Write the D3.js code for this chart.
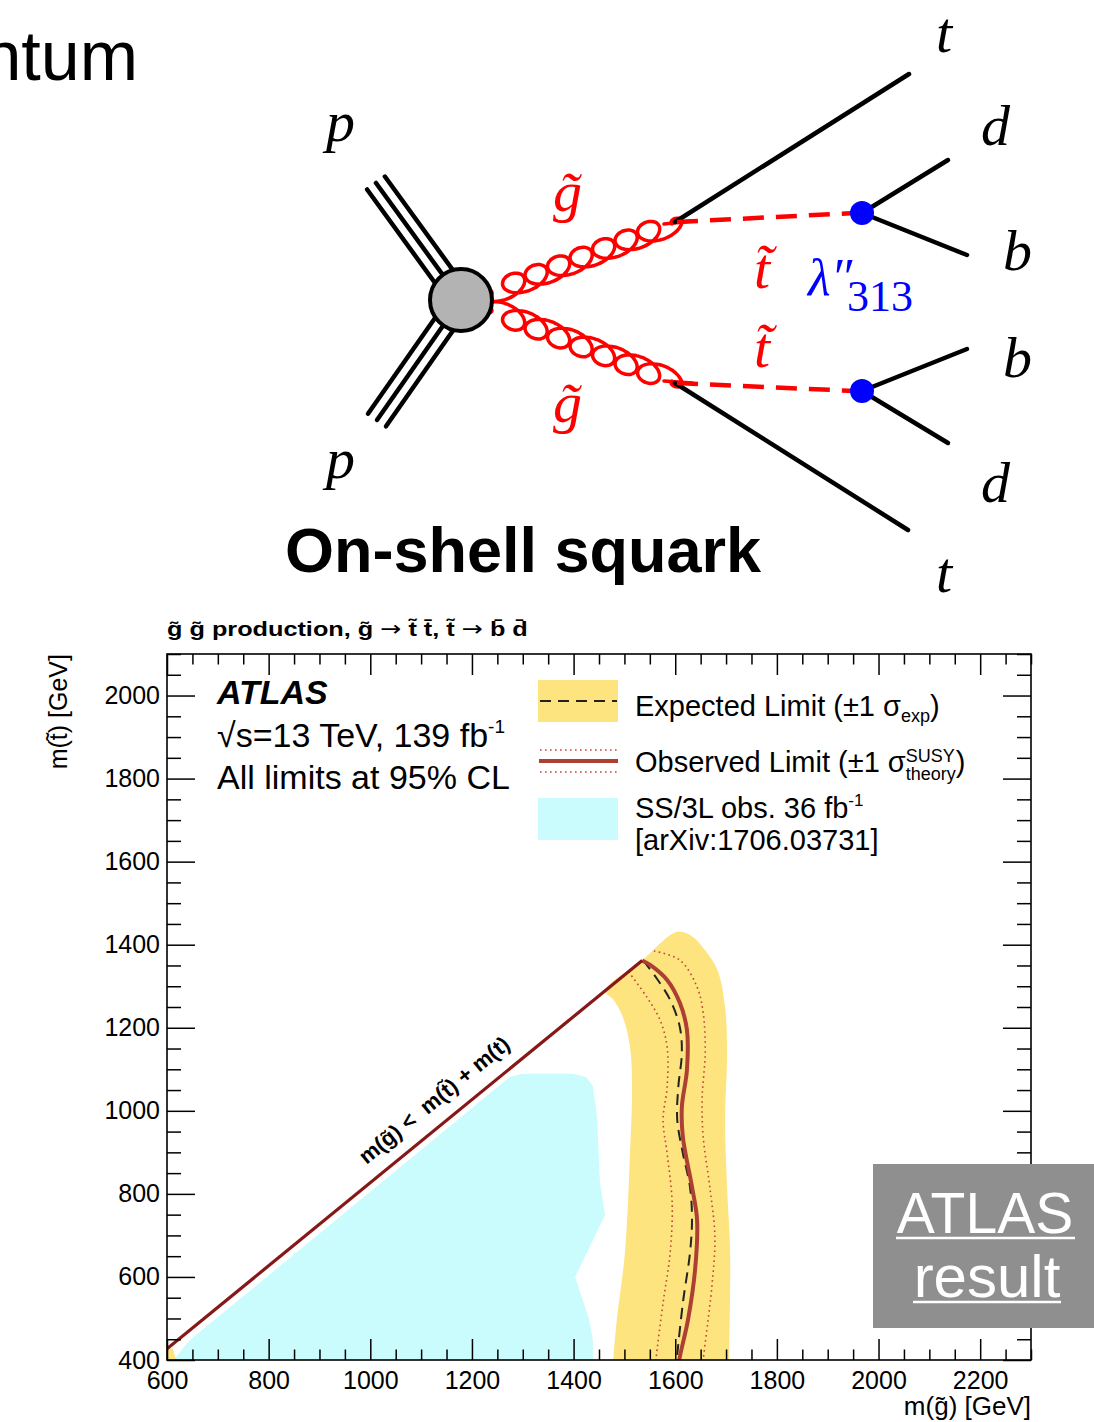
<!DOCTYPE html>
<html><head><meta charset="utf-8">
<script src="https://cdn.jsdelivr.net/npm/d3@7/dist/d3.min.js"></script>
<style>
html,body{margin:0;padding:0;background:#fff;}
svg{display:block;}
text{white-space:pre;}
</style></head><body>
<svg id="c" width="1094" height="1422" xmlns="http://www.w3.org/2000/svg"></svg>
<script>
// ================= chart data =================
const xMajorTicks = [600, 800, 1000, 1200, 1400, 1600, 1800, 2000, 2200];
const yMajorTicks = [400, 600, 800, 1000, 1200, 1400, 1600, 1800, 2000];
const xTickLabels = ["600", "800", "1000", "1200", "1400", "1600", "1800", "2000", "2200"];
const yTickLabels = ["400", "600", "800", "1000", "1200", "1400", "1600", "1800", "2000"];
const topQuarkMass = 173;
// kinematic boundary m(g~) = m(t~) + m(t)  (gluino mass endpoints)
const kinematicGluino = [600, 1535];
// SS/3L 36 fb-1 observed excluded region [m(g~), m(t~)]
const ss3lRegion = [[614, 398], [616, 405], [645, 448], [1275, 1082], [1300, 1089], [1399, 1089], [1425, 1081], [1438, 1060], [1446, 985], [1452, 826], [1462, 749], [1403, 600], [1430, 500], [1438, 448], [1438, 398]];
// expected limit +-1 sigma band (closed contour)
const expBand = [[1476, 360], [1478, 400], [1485, 496], [1501, 658], [1511, 898], [1515, 1057], [1511, 1154], [1497, 1226], [1478, 1268], [1462, 1289], [1533, 1360], [1604, 1431], [1632, 1421], [1657, 1389], [1683, 1339], [1698, 1250], [1702, 1139], [1698, 978], [1702, 817], [1708, 658], [1706, 400], [1706, 360]];
const expBandCorner = [[600, 400], [600, 426], [611, 428], [618, 400]];
const expectedLimit = [[1537, 1362], [1564, 1318], [1590, 1267], [1609, 1202], [1613, 1139], [1606, 1057], [1604, 978], [1615, 898], [1629, 817], [1633, 737], [1629, 658], [1615, 537], [1603, 400], [1601, 370]];
const observedLimit = [[1535, 1362], [1552, 1350], [1584, 1315], [1609, 1260], [1623, 1195], [1623, 1098], [1613, 1009], [1615, 937], [1633, 817], [1643, 737], [1639, 617], [1625, 496], [1608, 400], [1606, 370]];
const observedTheoryDown = [[1508, 1335], [1544, 1274], [1570, 1219], [1584, 1154], [1584, 1057], [1576, 978], [1584, 898], [1594, 778], [1590, 658], [1576, 537], [1562, 400], [1560, 370]];
const observedTheoryUp = [[1558, 1385], [1609, 1363], [1643, 1298], [1655, 1236], [1659, 1139], [1653, 1033], [1655, 937], [1668, 817], [1678, 696], [1672, 576], [1655, 400], [1653, 370]];

// ================= styles =================
const SANS = '"Liberation Sans", Arial, Helvetica, sans-serif';
const SERIF = '"Liberation Serif", "Times New Roman", serif';
const YELLOW = "#fde47f", CYAN = "#cbfcfd", OBS = "#ad3f33", KIN = "#861818", DOT = "#c2453c";

const svg = d3.select("#c");
svg.append("rect").attr("width", 1094).attr("height", 1422).attr("fill", "#fff");

// ================= header text =================
svg.append("text").attr("x", 138).attr("y", 80).attr("text-anchor", "end")
  .attr("font-family", SANS).attr("font-size", 70).attr("fill", "#000").text("ntum");

// ================= Feynman diagram =================
const fg = svg.append("g").attr("stroke-linecap", "round").attr("fill", "none");
const blob = [461, 300];
function protonLines(end) {
  const dx = blob[0] - end[0], dy = blob[1] - end[1], L = Math.hypot(dx, dy);
  const nx = -dy / L, ny = dx / L;
  [-11, 0, 11].forEach(o => {
    fg.append("line").attr("x1", end[0] + nx * o).attr("y1", end[1] + ny * o)
      .attr("x2", blob[0] + nx * o).attr("y2", blob[1] + ny * o)
      .attr("stroke", "#000").attr("stroke-width", 4.5);
  });
}
protonLines([376, 183]);
protonLines([377, 420]);

function gluon(p0, p1, n, amp, R, side) {
  const dx = p1[0] - p0[0], dy = p1[1] - p0[1], L = Math.hypot(dx, dy);
  const ux = dx / L, uy = dy / L, nx = -uy * side, ny = ux * side;
  const c = L / (2 * Math.PI * n);
  const pts = [];
  const N = n * 48;
  for (let i = 0; i <= N; i++) {
    const th = i / N * 2 * Math.PI * n;
    const env = Math.min(1, th / 1.5, (2 * Math.PI * n - th) / 1.5);
    const u = c * th - R * Math.sin(th) * env;
    const v = (amp * (1 - Math.cos(th)) - amp) * env;
    pts.push([p0[0] + ux * u + nx * v, p0[1] + uy * u + ny * v]);
  }
  fg.append("path").attr("d", d3.line().curve(d3.curveBasis)(pts))
    .attr("stroke", "#ff0000").attr("stroke-width", 3.5);
}
gluon([492, 293], [672, 224], 8, 11, 17, 1);
gluon([492, 310], [672, 381], 8, 11, 17, -1);
fg.append("line").attr("x1", 664).attr("y1", 224).attr("x2", 692).attr("y2", 221).attr("stroke", "#f00").attr("stroke-width", 3.5);
fg.append("line").attr("x1", 664).attr("y1", 381).attr("x2", 692).attr("y2", 383).attr("stroke", "#f00").attr("stroke-width", 3.5);

// top quark lines
fg.append("line").attr("x1", 675).attr("y1", 222).attr("x2", 909).attr("y2", 74).attr("stroke", "#000").attr("stroke-width", 4.5);
fg.append("line").attr("x1", 675).attr("y1", 383).attr("x2", 908).attr("y2", 530).attr("stroke", "#000").attr("stroke-width", 4.5);
// stop dashed lines
fg.append("line").attr("x1", 677).attr("y1", 222).attr("x2", 855).attr("y2", 213).attr("stroke", "#f00").attr("stroke-width", 4.5).attr("stroke-dasharray", "21,12").attr("stroke-linecap", "butt");
fg.append("line").attr("x1", 677).attr("y1", 383).attr("x2", 855).attr("y2", 391).attr("stroke", "#f00").attr("stroke-width", 4.5).attr("stroke-dasharray", "21,12").attr("stroke-linecap", "butt");
// decay products
[[862, 213, 948, 160], [862, 213, 967, 255], [862, 391, 967, 349], [862, 391, 948, 443]].forEach(l => {
  fg.append("line").attr("x1", l[0]).attr("y1", l[1]).attr("x2", l[2]).attr("y2", l[3]).attr("stroke", "#000").attr("stroke-width", 4.5);
});
fg.append("circle").attr("cx", 862).attr("cy", 213).attr("r", 12).attr("fill", "#0000ff").attr("stroke", "none");
fg.append("circle").attr("cx", 862).attr("cy", 391).attr("r", 12).attr("fill", "#0000ff").attr("stroke", "none");
fg.append("circle").attr("cx", blob[0]).attr("cy", blob[1]).attr("r", 31).attr("fill", "#b3b3b3").attr("stroke", "#000").attr("stroke-width", 4);

// labels
const lab = svg.append("g").attr("font-family", SERIF).attr("font-style", "italic");
function L(x, y, t, col, size) {
  return lab.append("text").attr("x", x).attr("y", y).attr("fill", col || "#000").attr("font-size", size || 58).text(t);
}
L(326, 141, "p"); L(326, 478, "p");
L(553, 211, "g\u0303", "#f00"); L(553, 422, "g\u0303", "#f00");
L(754, 288, "t\u0303", "#f00"); L(754, 367, "t\u0303", "#f00");
L(936, 52, "t"); L(936, 592, "t");
L(981, 145, "d"); L(981, 502, "d");
L(1003, 270, "b"); L(1003, 377, "b");
L(808, 295, "\u03bb\u2033", "#0000ff", 52);
lab.append("text").attr("x", 847).attr("y", 311).attr("fill", "#0000ff").attr("font-size", 44).attr("font-style", "normal").text("313");

svg.append("text").attr("x", 523).attr("y", 572).attr("text-anchor", "middle")
  .attr("font-family", SANS).attr("font-weight", "bold").attr("font-size", 63).text("On-shell squark");

// ================= exclusion plot =================
const M = { l: 167, r: 1031, t: 654, b: 1360 };
const x = d3.scaleLinear().domain([600, 2300]).range([M.l, M.r]);
const y = d3.scaleLinear().domain([400, 2100]).range([M.b, M.t]);

svg.append("clipPath").attr("id", "pc").append("rect")
  .attr("x", M.l).attr("y", M.t).attr("width", M.r - M.l).attr("height", M.b - M.t);
const pg = svg.append("g").attr("clip-path", "url(#pc)");
const lin = d3.line().x(d => x(d[0])).y(d => y(d[1]));

pg.append("path").attr("d", lin.curve(d3.curveLinearClosed)(ss3lRegion)).attr("fill", CYAN);
pg.append("path").attr("d", d3.line().x(d => x(d[0])).y(d => y(d[1])).curve(d3.curveCatmullRomClosed.alpha(0.5))(expBand)).attr("fill", YELLOW);
pg.append("path").attr("d", lin.curve(d3.curveLinearClosed)(expBandCorner)).attr("fill", YELLOW);

const smooth = d3.line().x(d => x(d[0])).y(d => y(d[1])).curve(d3.curveCatmullRom.alpha(0.5));
pg.append("path").attr("d", smooth(observedTheoryDown)).attr("fill", "none").attr("stroke", DOT).attr("stroke-width", 1.6).attr("stroke-dasharray", "1.6,3.4");
pg.append("path").attr("d", smooth(observedTheoryUp)).attr("fill", "none").attr("stroke", DOT).attr("stroke-width", 1.6).attr("stroke-dasharray", "1.6,3.4");
pg.append("path").attr("d", smooth(expectedLimit)).attr("fill", "none").attr("stroke", "#222").attr("stroke-width", 2).attr("stroke-dasharray", "11,7");
pg.append("path").attr("d", smooth(observedLimit)).attr("fill", "none").attr("stroke", OBS).attr("stroke-width", 4);

const kin = kinematicGluino.map(g => [g, g - topQuarkMass]);
pg.append("path").attr("d", d3.line().x(d => x(d[0])).y(d => y(d[1]))(kin)).attr("fill", "none").attr("stroke", KIN).attr("stroke-width", 3.2);

// kinematic label
{
  const ang = Math.atan2(y(kin[1][1]) - y(kin[0][1]), x(kin[1][0]) - x(kin[0][0]));
  const gm = 1155, px = x(gm), py = y(gm - topQuarkMass);
  const off = 16;
  const tx = px + Math.sin(ang) * off, ty = py - Math.cos(ang) * off;
  svg.append("text").attr("transform", `translate(${tx},${ty}) rotate(${ang * 180 / Math.PI})`)
    .attr("text-anchor", "middle").attr("font-family", SANS).attr("font-weight", "bold")
    .attr("font-size", 22).text("m(g\u0303) <  m(t\u0303) + m(t)");
}

// axes
function styleAxis(g) {
  g.select(".domain").remove();
  g.selectAll("line").attr("stroke", "#000").attr("stroke-width", 1.5);
  g.selectAll("text").attr("font-family", SANS).attr("font-size", 25).attr("fill", "#000");
}
const xMinor = d3.range(600, 2301, 50).filter(v => !xMajorTicks.includes(v));
const yMinor = d3.range(400, 2101, 50).filter(v => !yMajorTicks.includes(v));
svg.append("g").attr("transform", `translate(0,${M.b})`)
  .call(d3.axisBottom(x).tickValues(xMajorTicks).tickSize(-21).tickPadding(11).tickFormat((d, i) => xTickLabels[i])).call(styleAxis);
svg.append("g").attr("transform", `translate(0,${M.b})`)
  .call(d3.axisBottom(x).tickValues(xMinor).tickSize(-10.5).tickFormat("")).call(styleAxis);
svg.append("g").attr("transform", `translate(0,${M.t})`)
  .call(d3.axisTop(x).tickValues(xMajorTicks).tickSize(-21).tickFormat("")).call(styleAxis);
svg.append("g").attr("transform", `translate(0,${M.t})`)
  .call(d3.axisTop(x).tickValues(xMinor).tickSize(-10.5).tickFormat("")).call(styleAxis);
svg.append("g").attr("transform", `translate(${M.l},0)`)
  .call(d3.axisLeft(y).tickValues(yMajorTicks).tickSize(-28).tickPadding(7).tickFormat((d, i) => yTickLabels[i])).call(styleAxis);
svg.append("g").attr("transform", `translate(${M.l},0)`)
  .call(d3.axisLeft(y).tickValues(yMinor).tickSize(-14).tickFormat("")).call(styleAxis);
svg.append("g").attr("transform", `translate(${M.r},0)`)
  .call(d3.axisRight(y).tickValues(yMajorTicks).tickSize(-28).tickFormat("")).call(styleAxis);
svg.append("g").attr("transform", `translate(${M.r},0)`)
  .call(d3.axisRight(y).tickValues(yMinor).tickSize(-14).tickFormat("")).call(styleAxis);
svg.append("rect").attr("x", M.l).attr("y", M.t).attr("width", M.r - M.l).attr("height", M.b - M.t)
  .attr("fill", "none").attr("stroke", "#000").attr("stroke-width", 1.6);

// axis titles
svg.append("text").attr("x", M.r).attr("y", 1415).attr("text-anchor", "end")
  .attr("font-family", SANS).attr("font-size", 26).text("m(g\u0303) [GeV]");
svg.append("text").attr("transform", `translate(67,${M.t}) rotate(-90)`).attr("text-anchor", "end")
  .attr("font-family", SANS).attr("font-size", 25).text("m(t\u0303) [GeV]");

// title above the frame (ROOT TLatex, slightly wide)
{
  const tt = svg.append("text").attr("font-family", SANS).attr("font-weight", "bold").attr("font-size", 21);
  const segs = [["g\u0303 g\u0303 production, g\u0303 ", SANS], ["\u2192", '"DejaVu Sans"'], [" t\u0303 t\u0304, t\u0303 ", SANS], ["\u2192", '"DejaVu Sans"'], [" b\u0304 d\u0304", SANS]];
  segs.forEach(s => tt.append("tspan").attr("font-family", s[1]).attr("font-weight", s[1] === SANS ? "bold" : "normal").text(s[0]));
  const w = tt.node().getComputedTextLength();
  const sx = 361 / w;
  tt.attr("transform", `translate(167,636) scale(${sx},1)`);
}

// rich text helper
function rich(parent, x0, y0, size, parts) {
  let cx = x0;
  parts.forEach(p => {
    if (p.stack) {
      let w = 0;
      p.stack.forEach(s => {
        const t = parent.append("text").attr("x", cx).attr("y", y0 + s.dy).attr("font-size", s.size).text(s.t);
        w = Math.max(w, t.node().getComputedTextLength());
      });
      cx += w;
    } else {
      const t = parent.append("text").attr("x", cx).attr("y", y0 + (p.dy || 0)).attr("font-size", p.size || size)
        .attr("font-weight", p.weight || null).attr("font-style", p.style || null).text(p.t);
      cx += t.node().getComputedTextLength();
    }
  });
}

// ATLAS label
const ag = svg.append("g").attr("font-family", SANS).attr("fill", "#000");
ag.append("text").attr("x", 217).attr("y", 704).attr("font-size", 34).attr("font-weight", "bold").attr("font-style", "italic").text("ATLAS");
rich(ag, 217, 747, 34, [{ t: "\u221As=13 TeV, 139 fb" }, { t: "-1", size: 19, dy: -14 }]);
ag.append("text").attr("x", 217).attr("y", 789).attr("font-size", 34).text("All limits at 95% CL");

// legend
const lg = svg.append("g").attr("font-family", SANS).attr("fill", "#000");
lg.append("rect").attr("x", 538).attr("y", 680).attr("width", 80).attr("height", 42).attr("fill", YELLOW);
lg.append("line").attr("x1", 540).attr("x2", 617).attr("y1", 701).attr("y2", 701).attr("stroke", "#222").attr("stroke-width", 2).attr("stroke-dasharray", "11,7");
lg.append("line").attr("x1", 540).attr("x2", 617).attr("y1", 750).attr("y2", 750).attr("stroke", DOT).attr("stroke-width", 1.6).attr("stroke-dasharray", "1.6,3.4");
lg.append("line").attr("x1", 540).attr("x2", 617).attr("y1", 772).attr("y2", 772).attr("stroke", DOT).attr("stroke-width", 1.6).attr("stroke-dasharray", "1.6,3.4");
lg.append("line").attr("x1", 539).attr("x2", 618).attr("y1", 761).attr("y2", 761).attr("stroke", OBS).attr("stroke-width", 4);
lg.append("rect").attr("x", 538).attr("y", 798).attr("width", 80).attr("height", 42).attr("fill", CYAN);
rich(lg, 635, 716, 29, [{ t: "Expected Limit (\u00b11 \u03c3" }, { t: "exp", size: 18, dy: 6 }, { t: ")" }]);
rich(lg, 635, 772, 29, [{ t: "Observed Limit (\u00b11 \u03c3" }, { stack: [{ t: "SUSY", size: 18, dy: -10 }, { t: "theory", size: 18, dy: 8 }] }, { t: ")" }]);
rich(lg, 635, 818, 29, [{ t: "SS/3L obs. 36 fb" }, { t: "-1", size: 17, dy: -12 }]);
lg.append("text").attr("x", 635).attr("y", 850).attr("font-size", 29).text("[arXiv:1706.03731]");

// ATLAS result badge
const bg = svg.append("g");
bg.append("rect").attr("x", 873).attr("y", 1164).attr("width", 221).attr("height", 164).attr("fill", "#8f8f8f");
bg.append("text").attr("x", 985).attr("y", 1233).attr("text-anchor", "middle").attr("font-family", SANS).attr("font-size", 57).attr("fill", "#fff").text("ATLAS");
bg.append("text").attr("x", 987).attr("y", 1297).attr("text-anchor", "middle").attr("font-family", SANS).attr("font-size", 60).attr("fill", "#fff").text("result");
bg.append("line").attr("x1", 896).attr("x2", 1075).attr("y1", 1238).attr("y2", 1238).attr("stroke", "#fff").attr("stroke-width", 2.5);
bg.append("line").attr("x1", 913).attr("x2", 1061).attr("y1", 1302).attr("y2", 1302).attr("stroke", "#fff").attr("stroke-width", 2.5);
</script>
</body></html>
